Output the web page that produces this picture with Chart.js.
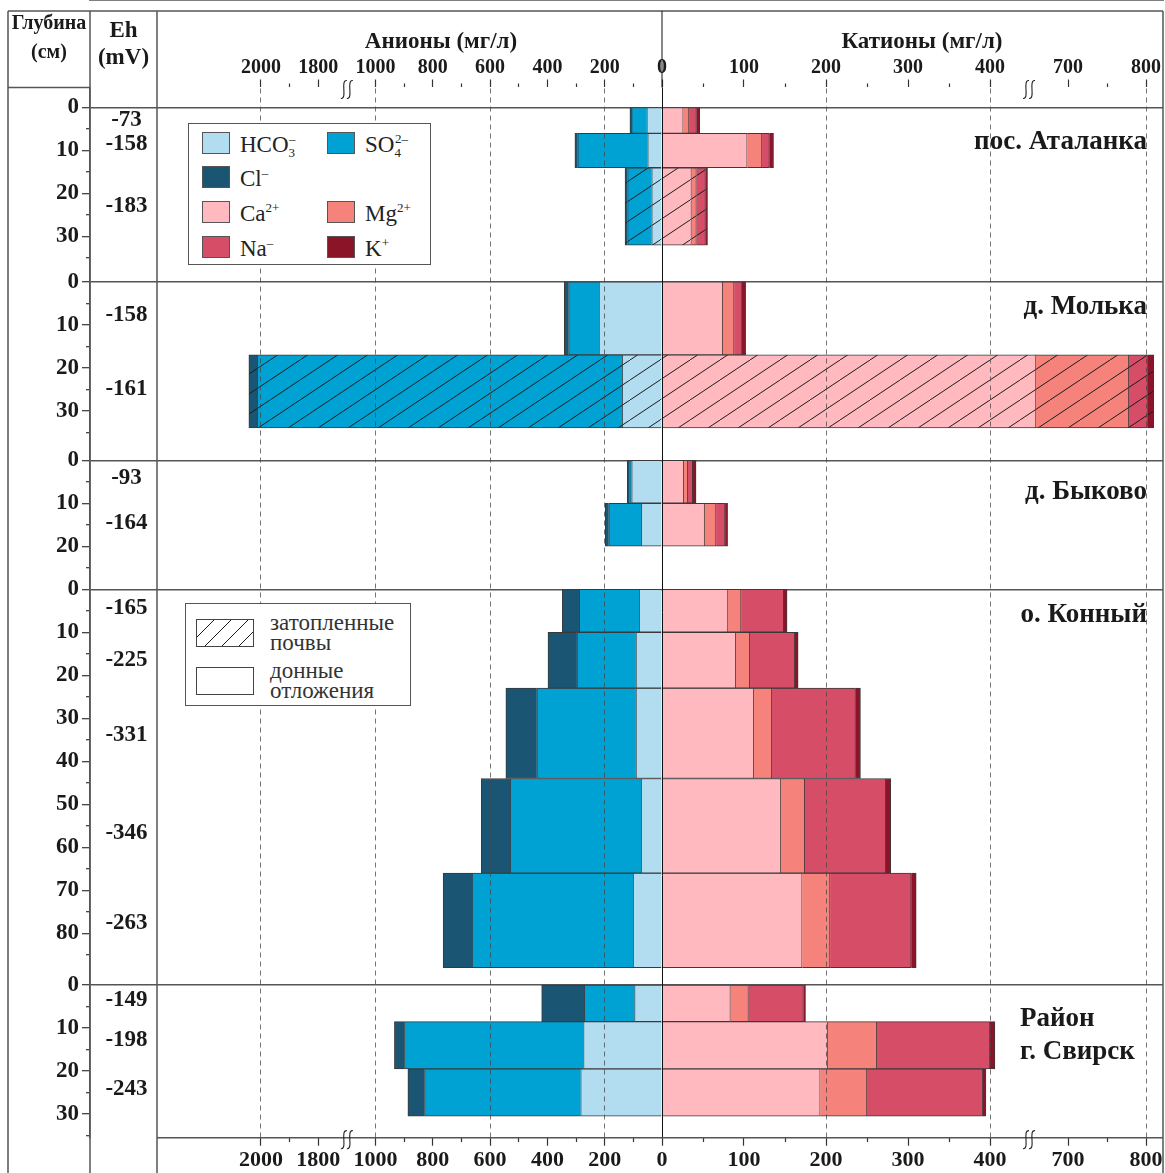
<!DOCTYPE html>
<html lang="ru">
<head>
<meta charset="utf-8">
<title>Анионы и катионы по глубине</title>
<script src="https://cdn.jsdelivr.net/npm/chart.js@4.4.1/dist/chart.umd.min.js"></script>
<style>
  html, body { margin: 0; padding: 0; background: #fff; }
  #page { position: relative; width: 1165px; height: 1173px; overflow: hidden;
          font-family: "Liberation Serif", "Times New Roman", serif; color: #1a1a1a; }
  #chart { position: absolute; left: 0; top: 0; }
  .t { position: absolute; white-space: nowrap; font-weight: bold; line-height: 1; }
  .box { position: absolute; background: #fff; border: 1.5px solid #555; box-sizing: border-box; }
  .sw { position: absolute; width: 28px; height: 22px; border: 1px solid #555; box-sizing: border-box; }
  .lt { position: absolute; font-size: 23px; line-height: 1; white-space: nowrap; color: #222; }
  .lt .dn { font-size: 13px; position: relative; top: 5px; }
  .lt .up { font-size: 13px; position: relative; top: -9px; }
  .lt2 { position: absolute; font-size: 23px; line-height: 1; white-space: nowrap; color: #333; }
</style>
</head>
<body>
<div id="page">
  <canvas id="chart" width="1165" height="1173"></canvas>

  <!-- column headers -->
  <div class="t" style="left:8px;width:82px;top:12px;text-align:center;font-size:20px;">Глубина</div>
  <div class="t" style="left:8px;width:82px;top:41px;text-align:center;font-size:20px;">(см)</div>
  <div class="t" style="left:90px;width:67px;top:18px;text-align:center;font-size:23px;">Eh</div>
  <div class="t" style="left:90px;width:67px;top:45px;text-align:center;font-size:23px;">(mV)</div>
  <div class="t" style="left:341px;width:200px;top:29px;text-align:center;font-size:23px;">Анионы (мг/л)</div>
  <div class="t" style="left:822px;width:200px;top:29px;text-align:center;font-size:23px;">Катионы (мг/л)</div>

  <!-- site names -->
  <div class="t" style="right:18px;top:127px;font-size:27px;">пос. Аталанка</div>
  <div class="t" style="right:18px;top:292px;font-size:27px;">д. Молька</div>
  <div class="t" style="right:18px;top:477px;font-size:27px;">д. Быково</div>
  <div class="t" style="right:18px;top:600px;font-size:27px;">о. Конный</div>
  <div class="t" style="left:1020px;top:1004px;font-size:27px;">Район</div>
  <div class="t" style="left:1020px;top:1037px;font-size:27px;">г. Свирск</div>

  <!-- ion legend -->
  <div class="box" style="left:188px;top:123px;width:243px;height:142px;">
    <div class="sw" data-ion="0" style="left:13px;top:8px;"></div>
    <div class="lt" style="left:51px;top:9px;">HCO<span class="dn">3</span><span class="up" style="margin-left:-6px">–</span></div>
    <div class="sw" data-ion="1" style="left:138px;top:8px;"></div>
    <div class="lt" style="left:176px;top:9px;">SO<span class="dn">4</span><span class="up" style="margin-left:-6px">2–</span></div>
    <div class="sw" data-ion="2" style="left:13px;top:42px;"></div>
    <div class="lt" style="left:51px;top:43px;">Cl<span class="up">–</span></div>
    <div class="sw" data-ion="3" style="left:13px;top:77px;"></div>
    <div class="lt" style="left:51px;top:78px;">Ca<span class="up">2+</span></div>
    <div class="sw" data-ion="4" style="left:138px;top:77px;"></div>
    <div class="lt" style="left:176px;top:78px;">Mg<span class="up">2+</span></div>
    <div class="sw" data-ion="5" style="left:13px;top:112px;"></div>
    <div class="lt" style="left:51px;top:113px;">Na<span class="up">–</span></div>
    <div class="sw" data-ion="6" style="left:138px;top:112px;"></div>
    <div class="lt" style="left:176px;top:113px;">K<span class="up">+</span></div>
  </div>

  <!-- sample type legend -->
  <div class="box" style="left:185px;top:603px;width:226px;height:103px;">
    <canvas id="hatchSwatch" width="56" height="26" style="position:absolute;left:10px;top:15px;border:1px solid #444;"></canvas>
    <div style="position:absolute;left:10px;top:63px;width:56px;height:26px;border:1px solid #444;"></div>
    <div class="lt2" style="left:84px;top:7px;">затопленные</div>
    <div class="lt2" style="left:84px;top:27px;">почвы</div>
    <div class="lt2" style="left:84px;top:55px;">донные</div>
    <div class="lt2" style="left:84px;top:75px;">отложения</div>
  </div>
</div>

<script>
// ---------------- data ----------------
const sites = ['пос. Аталанка', 'д. Молька', 'д. Быково', 'о. Конный', 'Район г. Свирск'];
const siteDeepestTick = [35, 35, 25, 85, 35];            // cm

// sampled layers (depth interval, cm)
const rowSite    = [0, 0, 0, 1, 1, 2, 2, 3, 3, 3, 3, 3, 4, 4, 4];
const rowTop     = [0, 6, 14, 0, 17, 0, 10, 0, 10, 23, 44, 66, 0, 8.5, 19.5];
const rowBottom  = [6, 14, 32, 17, 34, 10, 20, 10, 23, 44, 66, 88, 8.5, 19.5, 30.5];
const rowFlooded = [false, false, true, false, true, false, false, false, false, false, false, false, false, false, false];

// anions, mg/l
const hco3 = [53, 50, 36, 220, 139, 106, 72, 80, 91, 91, 73, 101, 96, 274, 284];
const so4  = [53, 244, 84, 106, 1874, 7, 114, 209, 206, 346, 457, 562, 175, 625, 545];
const cl   = [6, 10, 9, 15, 29, 8, 12, 59, 101, 108, 101, 101, 149, 35, 58];
// cations, mg/l
const ca = [26, 104, 36, 74, 659, 26.5, 52, 80.5, 90, 112, 145, 171, 83.5, 202, 193];
const mg = [7, 18, 6, 14, 119, 5, 14, 16, 17, 22, 29, 34, 22, 60, 57];
const na = [9, 9, 11, 9, 24, 6, 11, 52, 55, 102, 99, 99, 67, 138, 141];
const k  = [4, 5, 2.5, 5, 8, 4, 3, 4, 4, 6, 6, 6, 2.5, 6, 4];

// redox potential, mV
const ehSite  = [0, 0, 0, 1, 1, 2, 2, 3, 3, 3, 3, 3, 4, 4, 4];
const ehDepth = [3, 8.6, 23, 7.8, 25, 4.1, 14.7, 4.3, 16.4, 33.8, 56.6, 77.5, 3.5, 12.9, 24.2];
const ehValue = [-73, -158, -183, -158, -161, -93, -164, -165, -225, -331, -346, -263, -149, -198, -243];

// concentration axis ticks
const anionMajor  = [2000, 1800, 1000, 800, 600, 400, 200, 0];
const anionMinor  = [1900, 900, 700, 500, 300, 100];
const cationMajor = [100, 200, 300, 400, 700, 800];
const cationMinor = [50, 150, 250, 350, 750];
const anionGuides  = [2000, 1000, 600, 200];
const cationGuides = [200, 400, 800];

// ---------------- styles ----------------
const ION_COLORS = ['#b2dcf0', '#00a1d3', '#1a5674', '#ffb9bf', '#f6837b', '#d64d68', '#8c1429'];
const EDGE = '#3a3a3a';
const FONT = '"Liberation Serif", "Times New Roman", serif';

// ---------------- layout of the composite axes ----------------
const X_MIN = -572, X_MAX = 501;          // horizontal drawing units
const EH_EDGE = -505;                      // left edge of the concentration field
const Y_MIN = -4.65, Y_MAX = 239.5;        // stacked depth axis, cm
const siteOffset = [0, 40.5, 82, 112, 204];

// broken concentration scales: anions grow to the left, cations to the right
const ANION_K = 0.2865, CATION_K1 = 0.82, CATION_K2 = 0.78;
function anionAxis(v) { return -(v <= 1300 ? v : v - 600) * ANION_K; }
function cationAxis(v) { return v <= 500 ? v * CATION_K1 : 400 * CATION_K1 + (v - 600) * CATION_K2; }

// diagonal hatching for flooded soils
function hatch(color, w = 30, h = 20) {
  const c = document.createElement('canvas');
  c.width = w; c.height = h;
  const g = c.getContext('2d');
  g.fillStyle = color; g.fillRect(0, 0, w, h);
  g.strokeStyle = '#1a1a1a'; g.lineWidth = 1;
  for (const dx of [-w, 0, w]) {
    g.beginPath(); g.moveTo(dx, h); g.lineTo(dx + w, 0); g.stroke();
  }
  return g.createPattern(c, 'repeat');
}

// legend swatches
document.querySelectorAll('[data-ion]').forEach(el => { el.style.background = ION_COLORS[+el.dataset.ion]; });
(function () {
  const c = document.getElementById('hatchSwatch');
  const g = c.getContext('2d');
  g.fillStyle = hatch('#ffffff', 17, 17); g.fillRect(0, 0, c.width, c.height);
})();

// ---------------- datasets: one per sampled layer ----------------
const datasets = rowSite.map((s, r) => {
  const from = siteOffset[s] + rowTop[r], to = siteOffset[s] + rowBottom[r];
  const mid = (from + to) / 2;
  const data = [], bg = [], bw = [];
  let acc = 0;
  [hco3[r], so4[r], cl[r]].forEach((v, j) => {
    const a0 = acc, a1 = acc + v; acc = a1;
    data.push({ x: [anionAxis(a1), anionAxis(a0)], y: mid });
    bg.push(rowFlooded[r] ? hatch(ION_COLORS[j]) : ION_COLORS[j]);
    bw.push({ top: 1, bottom: 1, left: 1, right: 0 });
  });
  acc = 0;
  [ca[r], mg[r], na[r], k[r]].forEach((v, j) => {
    const c0 = acc, c1 = acc + v; acc = c1;
    data.push({ x: [cationAxis(c0), cationAxis(c1)], y: mid });
    bg.push(rowFlooded[r] ? hatch(ION_COLORS[3 + j]) : ION_COLORS[3 + j]);
    bw.push({ top: 1, bottom: 1, left: 0, right: 1 });
  });
  return {
    label: sites[s] + ' ' + rowTop[r] + '–' + rowBottom[r] + ' см',
    data, depthFrom: from, depthTo: to,
    backgroundColor: bg, borderColor: EDGE, borderWidth: bw, borderSkipped: false,
    grouped: false,
    barThickness: ctx => {
      const y = ctx.chart.scales.y;
      return Math.abs(y.getPixelForValue(ctx.dataset.depthTo) - y.getPixelForValue(ctx.dataset.depthFrom));
    }
  };
});

// ---------------- ticks ----------------
function concentrationTicks() {
  const list = [];
  anionMajor.forEach(v => list.push({ value: anionAxis(v), text: String(v), big: true, guide: anionGuides.includes(v), zero: v === 0 }));
  anionMinor.forEach(v => list.push({ value: anionAxis(v), text: '', big: false }));
  cationMajor.forEach(v => list.push({ value: cationAxis(v), text: String(v), big: true, guide: cationGuides.includes(v) }));
  cationMinor.forEach(v => list.push({ value: cationAxis(v), text: '', big: false }));
  return list.sort((a, b) => a.value - b.value);
}
function depthTicks() {
  const list = [];
  siteOffset.forEach((off, s) => {
    for (let d = 0; d <= siteDeepestTick[s]; d += 5) {
      list.push({ value: off + d, text: d % 10 === 0 ? String(d) : '', big: d % 10 === 0, zero: d === 0 });
    }
  });
  return list;
}

const tickFont = size => ({ family: FONT, size, weight: 'bold', lineHeight: 1.2 });

// ---------------- frame, breaks and Eh column ----------------
const framePlugin = {
  id: 'frame',
  afterDraw(chart) {
    const { ctx, chartArea: ca } = chart;
    const x = chart.scales.x, y = chart.scales.y;
    const L = 8, T = 11, R = ca.right, B = chart.height;
    const xEh = x.getPixelForValue(EH_EDGE);
    const x0 = x.getPixelForValue(0);
    const seg = (x1, y1, x2, y2) => { ctx.beginPath(); ctx.moveTo(x1, y1); ctx.lineTo(x2, y2); ctx.stroke(); };
    ctx.save();
    ctx.strokeStyle = '#555'; ctx.lineWidth = 1.5;
    seg(L, T, R, T);
    seg(L, T, L, B);
    seg(R, T, R, B);
    seg(L, ca.top, ca.left, ca.top);
    seg(ca.left, T, ca.left, B);
    seg(xEh, T, xEh, B);
    seg(xEh, ca.bottom, R, ca.bottom);
    ctx.strokeStyle = '#111'; ctx.lineWidth = 1;
    seg(x0, T, x0, ca.top);

    // axis break marks
    const breaks = [
      (x.getPixelForValue(anionAxis(1000)) + x.getPixelForValue(anionAxis(1800))) / 2,
      (x.getPixelForValue(cationAxis(400)) + x.getPixelForValue(cationAxis(700))) / 2
    ];
    ctx.strokeStyle = '#222'; ctx.lineWidth = 1.1;
    breaks.forEach(bx => {
      [ca.top + 2, ca.bottom + 2].forEach(by => {
        [-3, 3].forEach(dx => {
          const cx = bx + dx;
          ctx.beginPath();
          ctx.moveTo(cx + 3, by - 9);
          ctx.bezierCurveTo(cx - 4, by - 10, cx + 4, by + 10, cx - 3, by + 9);
          ctx.stroke();
        });
      });
    });

    // Eh values
    ctx.fillStyle = '#1a1a1a';
    ctx.font = 'bold 23px ' + FONT;
    ctx.textAlign = 'center'; ctx.textBaseline = 'middle';
    const xText = (ca.left + xEh) / 2 + 3;
    ehValue.forEach((v, i) => {
      ctx.fillText(String(v), xText, y.getPixelForValue(siteOffset[ehSite[i]] + ehDepth[i]));
    });
    ctx.restore();
  }
};

// ---------------- chart ----------------
new Chart(document.getElementById('chart'), {
  type: 'bar',
  data: { datasets },
  plugins: [framePlugin],
  options: {
    indexAxis: 'y',
    responsive: false,
    maintainAspectRatio: false,
    devicePixelRatio: 1,
    animation: false,
    events: [],
    layout: { padding: { left: 0, right: 2, top: 0, bottom: 0 } },
    plugins: { legend: { display: false }, tooltip: { enabled: false } },
    scales: {
      x: {
        type: 'linear', position: 'bottom', min: X_MIN, max: X_MAX, stacked: false, offset: false,
        afterBuildTicks: s => { s.ticks = concentrationTicks(); },
        afterFit: s => { s.height = 35.3; },
        ticks: { autoSkip: false, maxRotation: 0, padding: 1, color: '#1a1a1a', font: tickFont(22),
                 callback: (v, i, t) => t[i].text },
        border: { display: false },
        grid: {
          z: 1, offset: false, drawOnChartArea: true, lineWidth: 1, tickLength: 8, tickWidth: 1.2, tickColor: '#333',
          color: c => (c.tick && c.tick.zero) ? '#111' : 'rgba(0,0,0,0)',
          tickBorderDash: c => (c.tick && !c.tick.big) ? [4, 8] : []
        }
      },
      xTop: {
        type: 'linear', position: 'top', min: X_MIN, max: X_MAX, offset: false,
        afterBuildTicks: s => { s.ticks = concentrationTicks(); },
        afterFit: s => { s.height = 87.5; },
        ticks: { autoSkip: false, maxRotation: 0, padding: 0, color: '#1a1a1a', font: tickFont(20),
                 callback: (v, i, t) => t[i].text },
        border: { display: true, color: '#555', width: 1.5, dash: [5, 4] },
        grid: {
          z: 1, offset: false, drawOnChartArea: true, lineWidth: 1, tickLength: 8, tickWidth: 1.2, tickColor: '#333',
          color: c => (c.tick && c.tick.guide) ? 'rgba(70,70,70,0.75)' : 'rgba(0,0,0,0)',
          tickBorderDash: c => (c.tick && !c.tick.big) ? [4, 4] : [],
          tickBorderDashOffset: c => (c.tick && !c.tick.big) ? 4 : 0
        }
      },
      y: {
        type: 'linear', position: 'left', reverse: true, min: Y_MIN, max: Y_MAX, offset: false,
        afterBuildTicks: s => { s.ticks = depthTicks(); },
        afterFit: s => { s.width = 90; },
        ticks: { autoSkip: false, padding: 3, color: '#1a1a1a', font: tickFont(23),
                 callback: (v, i, t) => t[i].text },
        border: { display: true, color: '#555', width: 1.5 },
        grid: {
          offset: false, lineWidth: 1.4, tickLength: 8, tickWidth: 1.2, tickColor: '#333',
          color: c => (c.tick && c.tick.zero) ? '#555' : 'rgba(0,0,0,0)',
          tickBorderDash: c => (c.tick && !c.tick.big) ? [4, 4] : [],
          tickBorderDashOffset: c => (c.tick && !c.tick.big) ? 4 : 0
        }
      }
    }
  }
});
</script>
</body>
</html>
